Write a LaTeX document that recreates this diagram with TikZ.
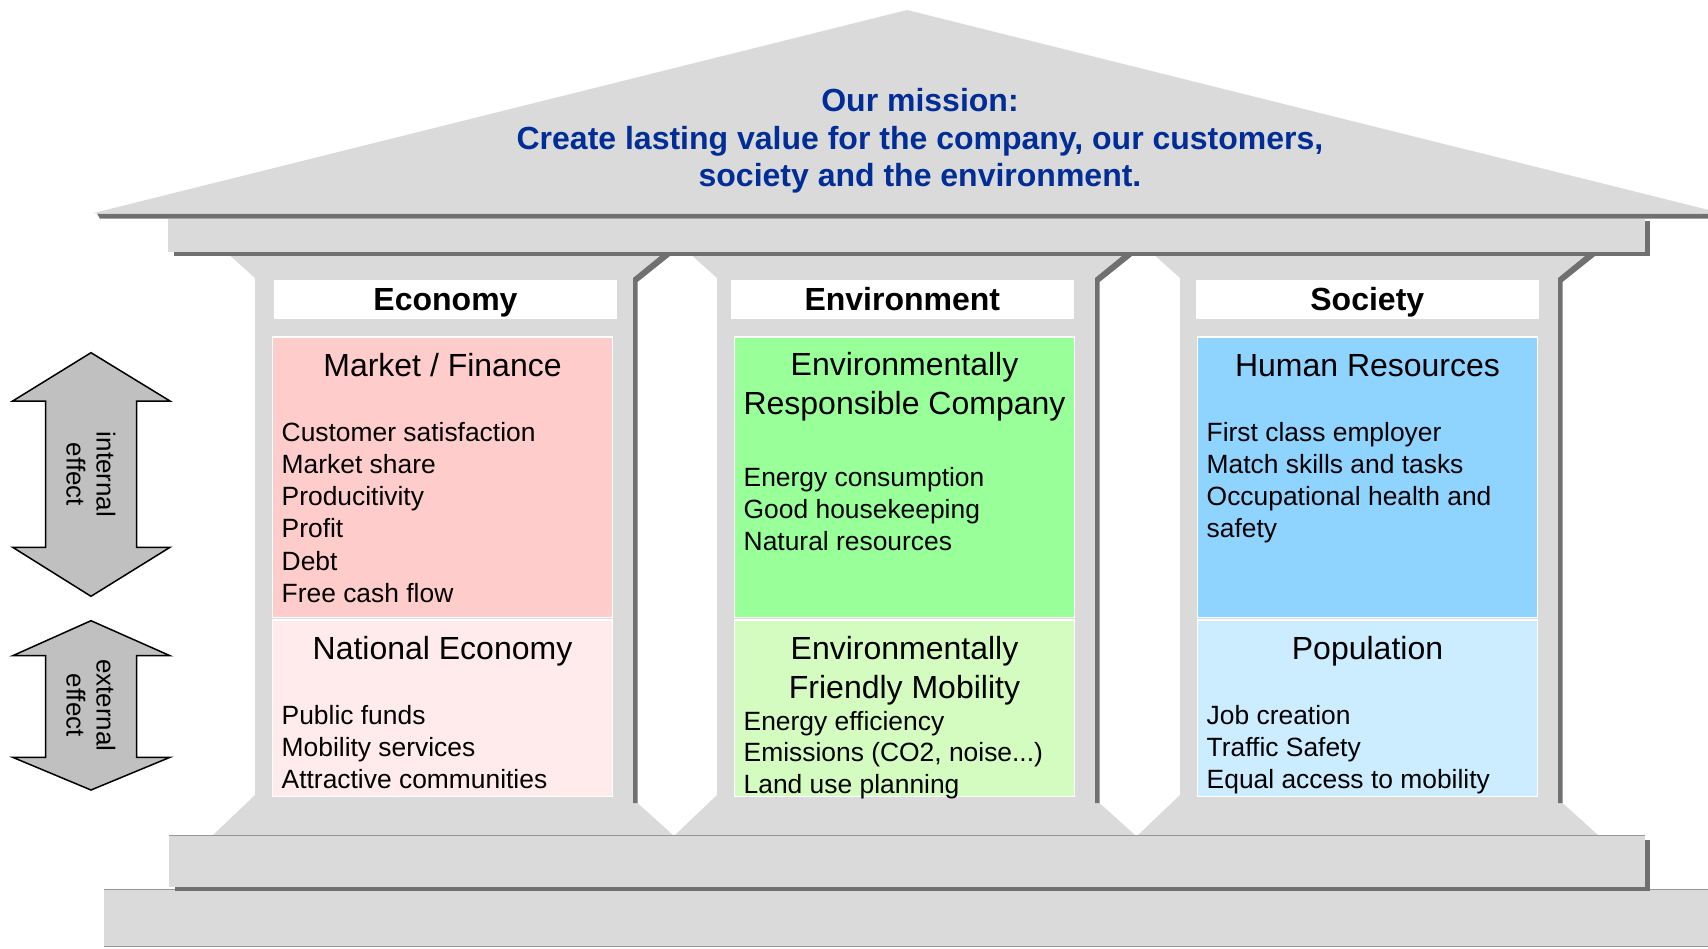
\documentclass[tikz,border=0pt]{standalone}
\usepackage{fontspec}
\setmainfont{Liberation Sans}
\definecolor{bldgray}{RGB}{218,218,218}
\definecolor{shadegray}{RGB}{112,112,112}
\definecolor{edgegray}{RGB}{150,150,150}
\definecolor{arrowgray}{RGB}{192,192,192}
\definecolor{missionblue}{RGB}{0,45,150}
\definecolor{ecoA}{RGB}{255,204,204}
\definecolor{ecoB}{RGB}{255,235,235}
\definecolor{envA}{RGB}{153,255,153}
\definecolor{envB}{RGB}{212,252,192}
\definecolor{socA}{RGB}{143,211,255}
\definecolor{socB}{RGB}{204,236,255}
\begin{document}
\begin{tikzpicture}[x=1pt,y=-1pt, line join=miter,
	title/.style={anchor=base, inner sep=0pt, font=\fontsize{32}{39}\selectfont},
	item/.style={anchor=base west, inner sep=0pt, font=\fontsize{26.4}{32}\selectfont},
	headbox/.style={fill=white, inner sep=0pt, minimum width=342.5pt, minimum height=38.5pt, text height=23pt, text depth=0pt, font=\fontsize{32}{39}\selectfont\bfseries},
	mission/.style={anchor=base, inner sep=0pt, text=missionblue, font=\fontsize{32}{38}\selectfont\bfseries},
	effect/.style={rotate=-90, align=center, inner sep=0pt, font=\fontsize{26}{30}\selectfont},
	twoway/.style={fill=arrowgray, draw=black, line width=1.5pt}]
	\useasboundingbox (0,0) rectangle (1708,948);
	\clip (0,0) rectangle (1708,948);
	% steps
	\fill[bldgray] (103.5,889) rectangle (1720,947);
	\draw[edgegray, line width=1.2pt] (103.5,889.6) -- (1708,889.6) (103.5,946.4) -- (1708,946.4);
	\fill[shadegray] (175,840) rectangle (1650,890.7);
	\fill[bldgray] (169,835) rectangle (1645,886.7);
	% roof and beam
	\fill[shadegray] (97,213.5) -- (1708,213.5) -- (1708,218.7) -- (100,218.7) -- cycle;
	\fill[bldgray] (92.6,213.3) -- (907,10) -- (1722,213.3) -- cycle;
	\fill[shadegray] (174,221) rectangle (1650,256);
	\fill[bldgray] (168,218.7) rectangle (1645,251.7);
	% columns
	\foreach \xl/\hx/\name/\lab/\ca/\cb in {255/445.5/eco/Economy/ecoA/ecoB,717/902.3/env/Environment/envA/envB,1180/1367.3/soc/Society/socA/socB}{
		\pgfmathsetmacro\xr{\xl+378}
		\fill[bldgray] (\xl-24.5,256) -- (\xr+27,256) -- (\xr,278) -- (\xr,803) -- (\xr+4.5,803) -- (\xr+40,835) -- (\xl-42,835) -- (\xl,795) -- (\xl,278) -- cycle;
		\fill[shadegray] (\xr+27,256) -- (\xr+37,256) -- (\xr+4.5,282) -- (\xr+4.5,803) -- (\xr,803) -- (\xr,278) -- cycle;
		\node[headbox] (\name) at (\hx,299.25) {\lab};
		\filldraw[fill=\ca, draw=white, line width=1.5pt] (\xl+17.5,337) rectangle (\xl+357.5,617.5);
		\filldraw[fill=\cb, draw=white, line width=1.5pt] (\xl+17.5,620) rectangle (\xl+357.5,796.5);
	}
	\draw[edgegray, line width=1.2pt] (169,835.6) -- (1645,835.6);
	% mission
	\node[mission] (mis1) at (920,111.7) {Our mission:};
	\node[mission] (mis2) at (920,149.3) {Create lasting value for the company, our customers,};
	\node[mission] (mis3) at (920,186.7) {society and the environment.};
	% Economy
	\node[title] (mf) at (442.5,376.7) {Market / Finance};
	\foreach \t [count=\k from 0] in {Customer satisfaction,Market share,Producitivity,Profit,Debt,Free cash flow}
		\node[item] (mf\k) at (281.5,441.5+32.15*\k) {\t};
	\node[title] (ne) at (442.5,659) {National Economy};
	\foreach \t [count=\k from 0] in {Public funds,Mobility services,Attractive communities}
		\node[item] (ne\k) at (281.5,724.6+31.9*\k) {\t};
	% Environment
	\node[title] (erc1) at (904.5,375) {Environmentally};
	\node[title] (erc2) at (904.5,414.5) {Responsible Company};
	\foreach \t [count=\k from 0] in {Energy consumption,Good housekeeping,Natural resources}
		\node[item] (erc\k) at (743.5,486.3+32*\k) {\t};
	\node[title] (efm1) at (904.5,659) {Environmentally};
	\node[title] (efm2) at (904.5,698) {Friendly Mobility};
	\foreach \t [count=\k from 0] in {Energy efficiency,{Emissions (CO2, noise.{}.{}.)},Land use planning}
		\node[item] (efm\k) at (743.5,730+31.6*\k) {\t};
	% Society
	\node[title] (hr) at (1367.5,376.7) {Human Resources};
	\foreach \t [count=\k from 0] in {First class employer,Match skills and tasks,Occupational health and,safety}
		\node[item] (hr\k) at (1206.5,441.5+32.15*\k) {\t};
	\node[title] (pop) at (1367.5,659) {Population};
	\foreach \t [count=\k from 0] in {Job creation,Traffic Safety,Equal access to mobility}
		\node[item] (pop\k) at (1206.5,724.6+31.9*\k) {\t};
	% effect arrows
	\draw[twoway] (91,352.7) -- (170,401) -- (136.7,401) -- (136.7,547.3) -- (170,547.3) -- (91,596.3) -- (12.7,547.3) -- (45.7,547.3) -- (45.7,401) -- (12.7,401) -- cycle;
	\draw[twoway] (91,620.7) -- (170,655.7) -- (136.7,655.7) -- (136.7,757.3) -- (170,757.3) -- (91,790) -- (12.7,757.3) -- (45.7,757.3) -- (45.7,655.7) -- (12.7,655.7) -- cycle;
	\node[effect] (intfx) at (91,474.5) {internal\\effect};
	\node[effect] (extfx) at (91,705.3) {external\\effect};
\end{tikzpicture}
\end{document}
